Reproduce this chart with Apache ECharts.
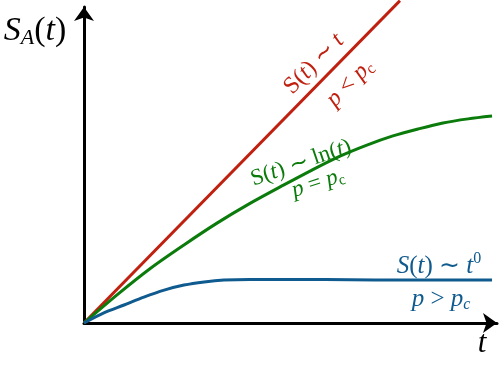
<!DOCTYPE html>
<html>
<head>
<meta charset="utf-8">
<script src="https://cdn.jsdelivr.net/npm/echarts@6/dist/echarts.min.js"></script>
<style>html,body{margin:0;padding:0;background:#fff}#c{width:499px;height:367px}</style>
</head>
<body>
<div id="c"></div>
<script>
// Data (abstract units, x in 0..10, y in 0..10)
var redX = [0, 7.65];
var redY = [0, 10.2];
var greenX = [0, 0.80, 1.62, 2.42, 3.22, 4.04, 4.84, 5.52, 6.20, 6.85, 7.48, 8.09, 8.69, 9.30, 9.88];
var greenY = [0, 0.89, 1.74, 2.47, 3.16, 3.80, 4.37, 4.84, 5.28, 5.63, 5.92, 6.14, 6.33, 6.46, 6.55];
var blueX = [0, 0.48, 0.97, 1.45, 1.94, 2.42, 2.91, 3.39, 4.02, 5.23, 6.44, 7.65, 9.88];
var blueY = [0, 0.32, 0.57, 0.82, 1.04, 1.20, 1.30, 1.36, 1.38, 1.38, 1.37, 1.36, 1.36];

function pairs(xs, ys) { return xs.map(function (x, i) { return [x, ys[i]]; }); }

var RED = '#c0200f', GREEN = '#0b7b0b', BLUE = '#0f5a8e';
var SERIF = 'Liberation Serif';

function richFor(color, size) {
  var small = Math.round(size * 0.65);
  return {
    r: {fontFamily: SERIF, fontSize: size, fill: color, color: color, fontStyle: 'normal'},
    i: {fontFamily: SERIF, fontSize: size, fill: color, color: color, fontStyle: 'italic'},
    sub: {fontFamily: SERIF, fontSize: small, fill: color, color: color, fontStyle: 'italic', padding: [Math.round(size * 0.45), 0, 0, 0]},
    subr: {fontFamily: SERIF, fontSize: small, fill: color, color: color, fontStyle: 'normal', padding: [Math.round(size * 0.45), 0, 0, 0]},
    sup: {fontFamily: SERIF, fontSize: small, fill: color, color: color, fontStyle: 'normal', padding: [0, 0, Math.round(size * 0.55), 0]}
  };
}

function label(x, y, deg, text, color, size) {
  return {
    type: 'text', x: x, y: y, rotation: deg * Math.PI / 180, z: 100,
    style: {text: text, rich: richFor(color, size), fill: color,
      fontFamily: SERIF, fontSize: size, align: 'center', verticalAlign: 'middle'}
  };
}

var chart = echarts.init(document.getElementById('c'));
chart.setOption({
  animation: false,
  backgroundColor: '#fff',
  grid: {left: 84, right: 2, top: 7, bottom: 44},
  xAxis: {
    type: 'value', min: 0, max: 10,
    axisLine: {show: true, onZero: false, symbol: ['none', 'arrow'], symbolSize: [15, 14], lineStyle: {color: '#000', width: 3}},
    axisTick: {show: false}, axisLabel: {show: false}, splitLine: {show: false}
  },
  yAxis: {
    type: 'value', min: 0, max: 10,
    axisLine: {show: true, onZero: false, symbol: ['none', 'arrow'], symbolSize: [15, 14], lineStyle: {color: '#000', width: 3}},
    axisTick: {show: false}, axisLabel: {show: false}, splitLine: {show: false}
  },
  series: [
    {type: 'line', data: pairs(redX, redY), showSymbol: false, clip: false,
      lineStyle: {color: RED, width: 3}, z: 3},
    {type: 'line', data: pairs(greenX, greenY), showSymbol: false, smooth: 0.3, clip: false,
      lineStyle: {color: GREEN, width: 3}, z: 3},
    {type: 'line', data: pairs(blueX, blueY), showSymbol: false, smooth: 0.3, clip: false,
      lineStyle: {color: BLUE, width: 3}, z: 3}
  ],
  graphic: [
    label(35, 31, 0, '{i|S}{sub|A}{r|(}{i|t}{r|)}', '#000', 34),
    label(482, 344, 0, '{i|t}', '#000', 31),
    label(314, 64, 45.5, '{r|S(}{i|t}{r|) ∼ }{i|t}', RED, 24),
    label(350, 83, 45.5, '{i|p} {r|<} {i|p}{subr|c}', RED, 24),
    label(301, 163, 19, '{r|S(}{i|t}{r|) ∼ ln(}{i|t}{r|)}', GREEN, 23),
    label(318, 183, 18, '{i|p} {r|=} {i|p}{subr|c}', GREEN, 23),
    label(439, 266, 0, '{i|S}{r|(}{i|t}{r|) ∼ }{i|t}{sup|0}', BLUE, 25),
    label(441, 299, 0, '{i|p} {r|>} {i|p}{sub|c}', BLUE, 25)
  ]
});
</script>
</body>
</html>
